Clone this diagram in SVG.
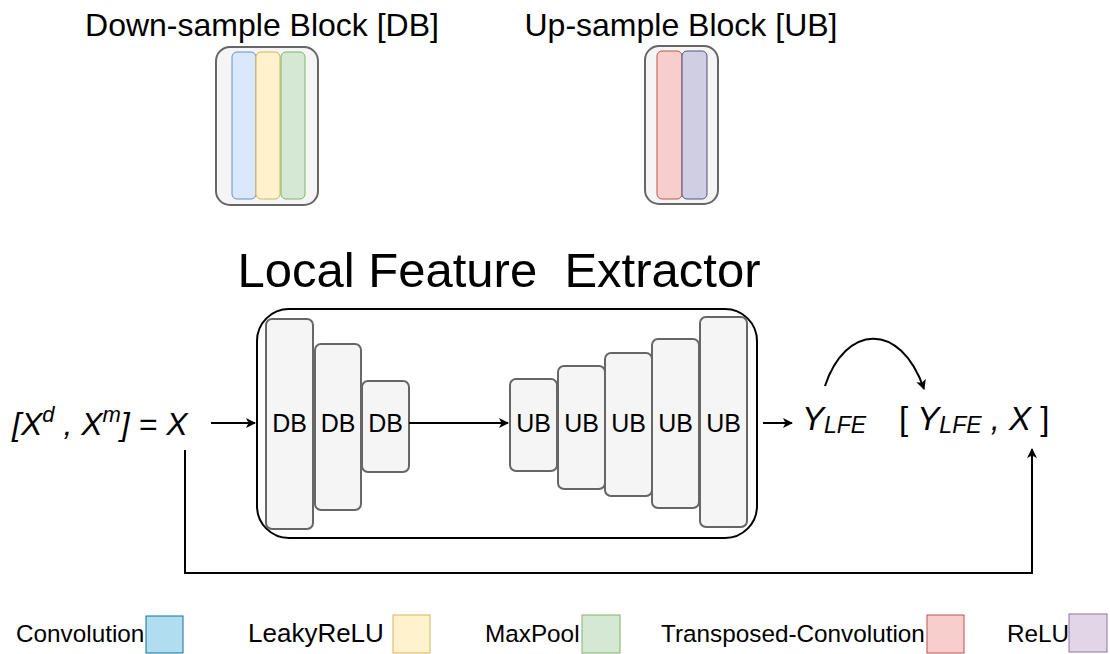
<svg xmlns="http://www.w3.org/2000/svg" width="1110" height="654" viewBox="0 0 1110 654">
  <style>
    .t { font-family: "Liberation Sans", Arial, sans-serif; fill: #000; white-space: pre; }
    .it { font-family: "Liberation Sans", Arial, sans-serif; font-style: italic; fill: #000; white-space: pre; }
    .blk { fill: #f5f5f5; stroke: #666666; stroke-width: 2; }
    .lbl { font-family: "Liberation Sans", Arial, sans-serif; font-size: 25px; text-anchor: middle; }
    .wire { fill: none; stroke: #000; stroke-width: 2; }
    .leg { font-size: 24.3px; }
  </style>
  <defs>
    <marker id="arrow" viewBox="0 0 10 10" refX="9" refY="5" markerWidth="5" markerHeight="5" orient="auto" markerUnits="strokeWidth">
      <path d="M0 0 L10 5 L0 10 L2.5 5 Z" fill="#000"/>
    </marker>
  </defs>

  <!-- block legends at the top -->
  <g id="db-legend">
    <text class="t" x="262" y="36" font-size="32" text-anchor="middle">Down-sample Block [DB]</text>
    <rect x="216" y="47" width="102" height="158" rx="14" fill="#f5f5f5" stroke="#666666" stroke-width="2"/>
    <rect x="232" y="52" width="24" height="147" rx="5" fill="#dae8fc" stroke="#6c8ebf"/>
    <rect x="256" y="52" width="24" height="147" rx="5" fill="#fff2cc" stroke="#d6b656"/>
    <rect x="281" y="52" width="24" height="147" rx="5" fill="#d5e8d4" stroke="#82b366"/>
  </g>
  <g id="ub-legend">
    <text class="t" x="681" y="36" font-size="32" text-anchor="middle">Up-sample Block [UB]</text>
    <rect x="645" y="46" width="73" height="158" rx="14" fill="#f5f5f5" stroke="#666666" stroke-width="2"/>
    <rect x="657" y="51" width="25" height="148" rx="5" fill="#f8cecc" stroke="#b85450"/>
    <rect x="682" y="51" width="25" height="148" rx="5" fill="#d0cee2" stroke="#56517e"/>
  </g>

  <!-- extractor -->
  <g id="lfe">
    <text class="t" x="499" y="287" font-size="49" text-anchor="middle">Local Feature  Extractor</text>
    <rect x="257" y="309" width="500" height="229" rx="32" fill="#fff" stroke="#000" stroke-width="2"/>
  </g>

  <g id="db1"><rect class="blk" x="266" y="319" width="47" height="210" rx="6"/><text class="lbl" x="289.5" y="432">DB</text></g>
  <g id="db2"><rect class="blk" x="315" y="344" width="46" height="166" rx="6"/><text class="lbl" x="338" y="432">DB</text></g>
  <g id="db3"><rect class="blk" x="362" y="381" width="47" height="91" rx="6"/><text class="lbl" x="385.5" y="432">DB</text></g>

  <g id="ub1"><rect class="blk" x="510" y="379" width="47" height="92" rx="6"/><text class="lbl" x="533.5" y="432">UB</text></g>
  <g id="ub2"><rect class="blk" x="558" y="366" width="47" height="123" rx="6"/><text class="lbl" x="581.5" y="432">UB</text></g>
  <g id="ub3"><rect class="blk" x="605" y="353" width="47" height="143" rx="6"/><text class="lbl" x="628.5" y="432">UB</text></g>
  <g id="ub4"><rect class="blk" x="652" y="339" width="47" height="169" rx="6"/><text class="lbl" x="675.5" y="432">UB</text></g>
  <g id="ub5"><rect class="blk" x="700" y="317" width="47" height="210" rx="6"/><text class="lbl" x="723.5" y="432">UB</text></g>

  <!-- input / output expressions -->
  <g id="input">
    <text class="it" x="12" y="435" font-size="32">[X<tspan font-size="22" dy="-13">d</tspan><tspan dy="13"> , X</tspan><tspan font-size="22" dy="-13">m</tspan><tspan dy="13">] = X</tspan></text>
  </g>
  <g id="ylfe">
    <text class="it" x="802" y="430" font-size="33">Y<tspan font-size="23" dy="3">LFE</tspan></text>
  </g>
  <g id="concat">
    <text class="it" x="899" y="430" font-size="33"><tspan font-style="normal">[ </tspan>Y<tspan font-size="23" dy="3">LFE</tspan><tspan dy="-3"> , X </tspan><tspan font-style="normal">]</tspan></text>
  </g>

  <!-- connectors -->
  <g id="connectors">
    <line class="wire" x1="211" y1="423" x2="255" y2="423" marker-end="url(#arrow)"/>
    <line class="wire" x1="409" y1="423" x2="508" y2="423" marker-end="url(#arrow)"/>
    <line class="wire" x1="763" y1="423" x2="792" y2="423" marker-end="url(#arrow)"/>
    <path class="wire" d="M825 386 C 845 325, 900 320, 924 389" marker-end="url(#arrow)"/>
    <path class="wire" d="M185 450 L185 573 L1032 573 L1032 449" marker-end="url(#arrow)"/>
  </g>

  <!-- layer legend -->
  <g id="legend">
    <text class="t leg" x="16" y="642">Convolution</text>
    <rect x="146" y="616" width="37" height="37" fill="#b1ddf0" stroke="#10739e"/>
    <text class="t" x="248" y="642" font-size="26">LeakyReLU</text>
    <rect x="393" y="615" width="37" height="38" fill="#fff2cc" stroke="#d6b656"/>
    <text class="t leg" x="485" y="642">MaxPool</text>
    <rect x="582" y="615" width="38" height="38" fill="#d5e8d4" stroke="#82b366"/>
    <text class="t leg" x="661" y="642">Transposed-Convolution</text>
    <rect x="927" y="615" width="37" height="38" fill="#f8cecc" stroke="#b85450"/>
    <text class="t leg" x="1007" y="642">ReLU</text>
    <rect x="1069" y="614" width="38" height="38" fill="#e1d5e7" stroke="#9673a6"/>
  </g>
</svg>
